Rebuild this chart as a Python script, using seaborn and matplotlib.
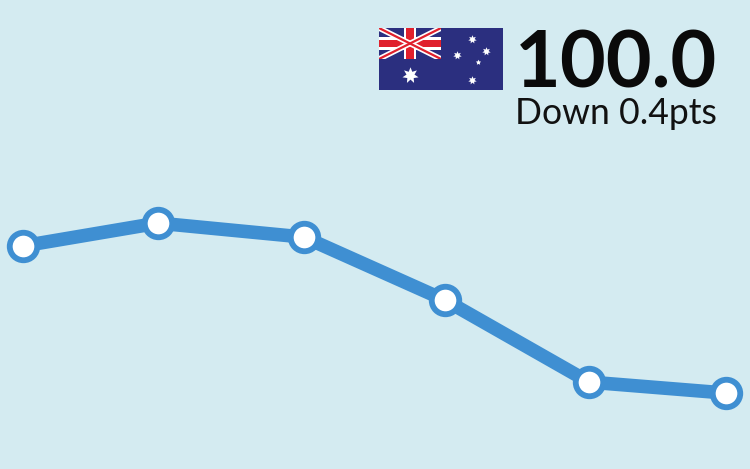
import matplotlib
matplotlib.use("Agg")
import matplotlib.pyplot as plt
from matplotlib.patches import Rectangle
import seaborn as sns
import pandas as pd

# Data: horizontal position of each reading, and the index value
period = [23, 158, 304, 445, 589, 726]
index_value = [105.35, 106.18, 105.67, 103.38, 100.4, 100.0]
headline = "100.0"
change_label = "Down 0.4pts"

BG = "#D4EBF1"
LINE = "#3F8FD2"
NAVY = "#2B2F7F"
RED = "#E0202C"

df = pd.DataFrame({"period": period, "index": index_value})

sns.set_theme(style="white")
plt.rcParams["font.family"] = ["Lato", "DejaVu Sans"]

fig = plt.figure(figsize=(7.5, 4.69), dpi=100, facecolor=BG)
ax = fig.add_axes([0, 0, 1, 1], facecolor=BG)
sns.lineplot(data=df, x="period", y="index", ax=ax, color=LINE, linewidth=9.8,
             marker="o", markersize=19.8, markerfacecolor="white",
             markeredgecolor=LINE, markeredgewidth=4.2, solid_capstyle="butt",
             errorbar=None, clip_on=False)
ax.set_xlim(0, 750)
ax.set_ylim(97.24, 114.29)
ax.axis("off")

fig.text(717 / 750, 1 - 87.5 / 469, headline, ha="right", va="baseline",
         fontsize=57, fontweight="bold", color="#0A0A0A")
fig.text(717 / 750, 1 - 124.5 / 469, change_label, ha="right", va="baseline",
         fontsize=25.6, color="#111111")

# Flag (x 379-503, y 28-90 in pixels)
fx = fig.add_axes([379 / 750, 1 - 90 / 469, 124 / 750, 62 / 469])
fx.set_xlim(0, 2)
fx.set_ylim(0, 1)
fx.axis("off")
fx.add_patch(Rectangle((0, 0), 2, 1, color=NAVY, lw=0))
# Union Jack canton
canton = Rectangle((0, 0.5), 1, 0.5, transform=fx.transData)
for color, width in (("white", 4.0), (RED, 1.6)):
    for ys in ([0.5, 1], [1, 0.5]):
        ln, = fx.plot([0, 1], ys, color=color, lw=width, solid_capstyle="butt")
        ln.set_clip_path(canton)
fx.add_patch(Rectangle((0.40, 0.5), 0.20, 0.5, color="white", lw=0))
fx.add_patch(Rectangle((0, 0.65), 1, 0.20, color="white", lw=0))
fx.add_patch(Rectangle((0.435, 0.5), 0.13, 0.5, color=RED, lw=0))
fx.add_patch(Rectangle((0, 0.69), 1, 0.115, color=RED, lw=0))
# Stars
star7 = (7, 1, 0)
fx.scatter([0.5], [0.24], marker=star7, s=140, color="white", lw=0, zorder=3)
fx.scatter([1.5, 1.5, 1.26, 1.73], [0.82, 0.16, 0.56, 0.63], marker=star7, s=38,
           color="white", lw=0, zorder=3)
fx.scatter([1.6], [0.45], marker=(5, 1, 0), s=16, color="white", lw=0, zorder=3)

fig.savefig("out.png", dpi=100, facecolor=BG)
